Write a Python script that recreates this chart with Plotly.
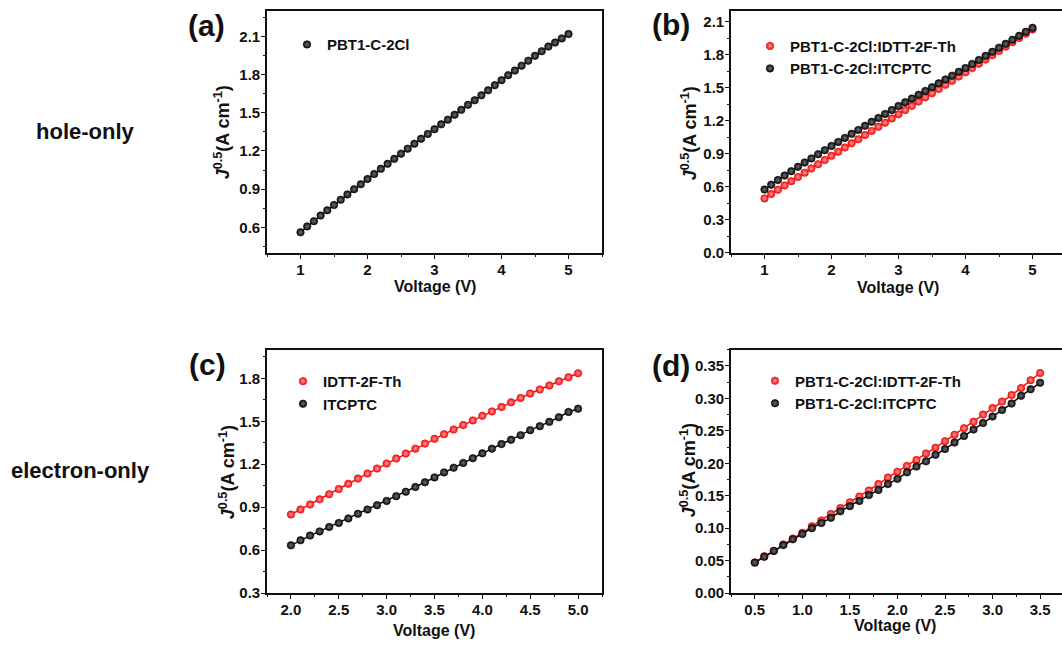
import plotly.graph_objects as go

# ---------------- data ----------------
V_a = [round(1.0 + 0.1 * i, 1) for i in range(41)]
J_a_PBT1 = [0.561, 0.608, 0.649, 0.693, 0.734, 0.776, 0.817, 0.859, 0.900, 0.939,
            0.980, 1.019, 1.060, 1.099, 1.138, 1.179, 1.218, 1.257, 1.296, 1.334,
            1.371, 1.409, 1.446, 1.484, 1.523, 1.562, 1.598, 1.637, 1.676, 1.717,
            1.756, 1.795, 1.831, 1.870, 1.909, 1.947, 1.983, 2.020, 2.051, 2.084, 2.118]

V_b = [round(1.0 + 0.1 * i, 1) for i in range(41)]
J_b_IDTT = [0.495, 0.535, 0.574, 0.613, 0.652, 0.690, 0.729, 0.767, 0.806, 0.844,
            0.882, 0.920, 0.958, 0.996, 1.033, 1.071, 1.109, 1.147, 1.184, 1.222,
            1.260, 1.298, 1.337, 1.375, 1.414, 1.452, 1.490, 1.528, 1.565, 1.603,
            1.641, 1.680, 1.719, 1.758, 1.797, 1.836, 1.875, 1.914, 1.953, 1.992, 2.031]
J_b_ITCPTC = [0.576, 0.620, 0.662, 0.703, 0.743, 0.783, 0.821, 0.859, 0.897, 0.934,
              0.972, 1.009, 1.045, 1.082, 1.118, 1.155, 1.191, 1.227, 1.263, 1.299,
              1.335, 1.369, 1.403, 1.437, 1.472, 1.506, 1.541, 1.576, 1.611, 1.646,
              1.680, 1.717, 1.754, 1.791, 1.828, 1.865, 1.901, 1.937, 1.973, 2.010, 2.046]

V_c = [round(2.0 + 0.1 * i, 1) for i in range(31)]
J_c_IDTT = [0.849, 0.884, 0.919, 0.955, 0.991, 1.027, 1.064, 1.100, 1.135, 1.170,
            1.205, 1.240, 1.275, 1.309, 1.344, 1.378, 1.410, 1.442, 1.474, 1.506,
            1.538, 1.569, 1.600, 1.632, 1.663, 1.694, 1.722, 1.750, 1.779, 1.807, 1.835]
J_c_ITCPTC = [0.634, 0.669, 0.702, 0.731, 0.762, 0.790, 0.822, 0.854, 0.884, 0.914,
              0.944, 0.977, 1.008, 1.041, 1.074, 1.108, 1.143, 1.176, 1.209, 1.242,
              1.276, 1.309, 1.341, 1.371, 1.403, 1.438, 1.466, 1.496, 1.528, 1.565, 1.588]

V_d = [round(0.5 + 0.1 * i, 1) for i in range(31)]
J_d_IDTT = [0.047, 0.057, 0.065, 0.075, 0.084, 0.093, 0.103, 0.112, 0.122, 0.131,
            0.140, 0.149, 0.158, 0.168, 0.178, 0.187, 0.196, 0.205, 0.215, 0.224,
            0.234, 0.244, 0.254, 0.264, 0.275, 0.285, 0.295, 0.305, 0.316, 0.328, 0.339]
J_d_ITCPTC = [0.047, 0.056, 0.065, 0.074, 0.083, 0.091, 0.100, 0.108, 0.116, 0.126,
              0.134, 0.142, 0.151, 0.159, 0.168, 0.176, 0.186, 0.195, 0.203, 0.213,
              0.222, 0.232, 0.242, 0.252, 0.262, 0.272, 0.282, 0.292, 0.304, 0.314, 0.324]

# ---------------- styling ----------------
W, H = 1062, 653
FONT = "Arial, Liberation Sans, sans-serif"
RED = "#f01010"
BLACK = "#0a0a0a"


def px(x):
    return x / W


def py(y):
    return 1 - y / H


fig = go.Figure()


def add_series(x, y, color, center, name, xa, ya, legend):
    fig.add_trace(go.Scatter(x=x, y=y, mode="lines", line=dict(color=color, width=1.5),
                             xaxis=xa, yaxis=ya, showlegend=False, hoverinfo="skip"))
    fig.add_trace(go.Scatter(x=x, y=y, mode="markers", name=name,
                             marker=dict(size=7.5, color=color,
                                         gradient=dict(type="radial", color=center),
                                         line=dict(color=color, width=0.6)),
                             xaxis=xa, yaxis=ya, legend=legend))


add_series(V_a, J_a_PBT1, BLACK, "#707070", "PBT1-C-2Cl", "x", "y", "legend")
add_series(V_b, J_b_IDTT, RED, "#ff9a9a", "PBT1-C-2Cl:IDTT-2F-Th", "x2", "y2", "legend2")
add_series(V_b, J_b_ITCPTC, BLACK, "#707070", "PBT1-C-2Cl:ITCPTC", "x2", "y2", "legend2")
add_series(V_c, J_c_IDTT, RED, "#ff9a9a", "IDTT-2F-Th", "x3", "y3", "legend3")
add_series(V_c, J_c_ITCPTC, BLACK, "#707070", "ITCPTC", "x3", "y3", "legend3")
add_series(V_d, J_d_IDTT, RED, "#ff9a9a", "PBT1-C-2Cl:IDTT-2F-Th", "x4", "y4", "legend4")
add_series(V_d, J_d_ITCPTC, BLACK, "#707070", "PBT1-C-2Cl:ITCPTC", "x4", "y4", "legend4")

tickfont = dict(family=FONT, size=15, color="#111", weight="bold")


def axis(domain, rng, dtick, minor, fmt, anchor, mirror=True, tick0=0):
    return dict(domain=domain, range=rng, dtick=dtick, tick0=tick0, tickformat=fmt,
                showline=True, linecolor="#111", linewidth=1.6, mirror=mirror,
                ticks="outside", ticklen=4, tickwidth=1.4, tickcolor="#111",
                ticklabelstandoff=-2,
                minor=dict(dtick=minor, ticks="outside", ticklen=2.5, tickwidth=1.2,
                           tickcolor="#111", tick0=tick0),
                showgrid=False, zeroline=False, tickfont=tickfont, anchor=anchor,
                fixedrange=True)


def mirror_axis(over, rng, dtick, minor, anchor, side, tick0=0):
    # opposite-side axis carrying inward-pointing ticks only
    return dict(overlaying=over, range=rng, dtick=dtick, tick0=tick0, side=side,
                anchor=anchor, showline=False, showticklabels=False,
                ticks="inside", ticklen=4, tickwidth=1.4, tickcolor="#111",
                minor=dict(dtick=minor, ticks="inside", ticklen=2.5, tickwidth=1.2,
                           tickcolor="#111", tick0=tick0),
                showgrid=False, zeroline=False, fixedrange=True)


XL = [px(267), px(602)]
XR = [px(731), 1.0]
YT = [py(256), py(11)]
YB = [py(600.5), py(354)]

fig.update_layout(
    width=W, height=H,
    margin=dict(l=0, r=0, t=0, b=0),
    paper_bgcolor="white", plot_bgcolor="white",
    xaxis=axis(XL, [0.5, 5.5], 1, 0.5, "d", "y"),
    yaxis=axis(YT, [0.4, 2.3], 0.3, 0.15, ".1f", "x"),
    xaxis2=axis(XR, [0.5, 5.44], 1, 0.5, "d", "y2"),
    yaxis2=axis(YT, [0, 2.2], 0.3, 0.15, ".1f", "x2", mirror=False),
    xaxis3=axis(XL, [1.75, 5.25], 0.5, 0.25, ".1f", "y3"),
    yaxis3=axis(YB, [0.3, 2.0], 0.3, 0.15, ".1f", "x3"),
    xaxis4=axis(XR, [0.25, 3.73], 0.5, 0.25, ".1f", "y4"),
    yaxis4=axis(YB, [0, 0.375], 0.05, 0.025, ".2f", "x4", mirror=False),
    # inward ticks on the top / right frame edges
    xaxis5=mirror_axis("x", [0.5, 5.5], 1, 0.5, "y", "top"),
    xaxis6=mirror_axis("x2", [0.5, 5.44], 1, 0.5, "y2", "top"),
    xaxis7=mirror_axis("x3", [1.75, 5.25], 0.5, 0.25, "y3", "top"),
    xaxis8=mirror_axis("x4", [0.25, 3.73], 0.5, 0.25, "y4", "top"),
    yaxis5=mirror_axis("y", [0.4, 2.3], 0.3, 0.15, "x", "right"),
    yaxis6=mirror_axis("y3", [0.3, 2.0], 0.3, 0.15, "x3", "right"),
)

legfont = dict(family=FONT, size=15, color="#111", weight="bold")
for key, (lx, ly) in {"legend": (287, 28.5), "legend2": (750, 30),
                      "legend3": (283, 369.5), "legend4": (755, 369)}.items():
    fig.update_layout({key: dict(x=px(lx), y=py(ly), xanchor="left", yanchor="top",
                                 bgcolor="rgba(0,0,0,0)", borderwidth=0, font=legfont,
                                 tracegroupgap=0, itemwidth=30)})

annots = []
# panel labels
for txt, x, y in [("(a)", 206, 26), ("(b)", 671, 25), ("(c)", 207, 369), ("(d)", 671, 370)]:
    annots.append(dict(text=txt, x=px(x), y=py(y), xref="paper", yref="paper",
                       showarrow=False, xanchor="center", yanchor="middle",
                       font=dict(family=FONT, size=30, color="#111", weight="bold")))
# row labels
for txt, x, y in [("hole-only", 85, 133), ("electron-only", 80, 476)]:
    annots.append(dict(text=txt, x=px(x), y=py(y), xref="paper", yref="paper",
                       showarrow=False, xanchor="center", yanchor="middle",
                       font=dict(family=FONT, size=22, color="#111", weight="bold")))
# x titles
for x, y in [(435, 290), (898, 291), (434, 638), (895, 633)]:
    annots.append(dict(text="Voltage (V)", x=px(x), y=py(y), xref="paper", yref="paper",
                       showarrow=False, xanchor="center", yanchor="middle",
                       font=dict(family=FONT, size=16, color="#111", weight="bold")))
# y titles
ytitle = "<i>J</i><sup>0.5</sup>(A cm<sup>-1</sup>)"
for x, y in [(222, 134), (689, 135), (227, 478), (688, 476)]:
    annots.append(dict(text=ytitle, x=px(x), y=py(y), xref="paper", yref="paper",
                       showarrow=False, xanchor="center", yanchor="middle", textangle=-90,
                       font=dict(family=FONT, size=18, color="#111", weight="bold")))
fig.update_layout(annotations=annots)

fig.write_html("out.html",
               config={"displayModeBar": False},
               post_script="document.body.style.margin='0';"
                           "document.body.style.overflow='hidden';")
